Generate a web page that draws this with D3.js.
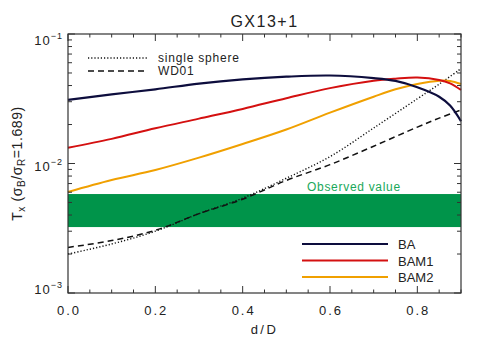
<!DOCTYPE html>
<html>
<head>
<meta charset="utf-8">
<script src="https://cdn.jsdelivr.net/npm/d3@7"></script>
<style>
  body { margin: 0; background: #fff; }
  text { font-family: "Liberation Sans", Arial, sans-serif; fill: #222; }
</style>
</head>
<body>
<script>
// x values (d/D) and model curves
var dBA  = [0, 0.1, 0.2, 0.3, 0.4, 0.5, 0.6, 0.7, 0.75, 0.8, 0.85, 0.875, 0.9];
var tBA  = [0.031, 0.0342, 0.0374, 0.0414, 0.0446, 0.0468, 0.0478, 0.0456, 0.0434, 0.0388, 0.0328, 0.0280, 0.0212];

var dBAM = [0, 0.1, 0.2, 0.3, 0.4, 0.5, 0.6, 0.7, 0.75, 0.8, 0.85, 0.875, 0.9];
var tBAM1 = [0.01324, 0.0155, 0.0187, 0.0222, 0.0264, 0.0319, 0.0382, 0.0436, 0.0452, 0.0461, 0.0442, 0.0416, 0.037];
var tBAM2 = [0.00603, 0.00746, 0.00891, 0.0111, 0.01415, 0.0183, 0.0247, 0.0328, 0.0374, 0.0411, 0.0436, 0.0434, 0.0411];

var dRef = [0, 0.1, 0.2, 0.3, 0.4, 0.5, 0.6, 0.7, 0.8, 0.85, 0.9];
var tSphere = [0.0020, 0.00239, 0.0030, 0.0041, 0.0054, 0.0077, 0.0113, 0.0188, 0.0316, 0.041, 0.054];
var tWD01   = [0.00225, 0.00254, 0.00305, 0.0041, 0.0053, 0.0074, 0.0098, 0.0136, 0.0191, 0.0224, 0.0259];

// observed band
var observed = [0.00323, 0.00581];

var xTicks = [0, 0.2, 0.4, 0.6, 0.8];
var yTicks = [1e-3, 1e-2, 1e-1];
var yExp = ["\u22123", "\u22122", "\u22121"];

window.onload = function(){

    var w = 485, h = 346;
    var left = 68, top = 34, right = 461, bottom = 293;
    var axisCol = "#333";

    var svg = d3.select("body")
        .append("svg")
        .attr("width", w)
        .attr("height", h);

    var x = d3.scaleLinear().domain([0, 0.9]).range([left, right]);
    var y = d3.scaleLog().domain([1e-3, 1e-1]).range([bottom, top]);

    // observed value band
    svg.append("rect")
        .attr("x", x(0))
        .attr("width", x(0.9) - x(0))
        .attr("y", y(observed[1]))
        .attr("height", y(observed[0]) - y(observed[1]))
        .style("fill", "#00944a");

    svg.append("text")
        .attr("x", 307).attr("y", 191)
        .style("font-size", "12px")
        .style("letter-spacing", "0.7px")
        .style("fill", "#1aa85a")
        .text("Observed value");

    // curves
    function draw(ds, ts, col, dash, width){
        var pts = ds.map(function(d, i){ return [d, ts[i]]; });
        var line = d3.line()
            .x(function(p){ return x(p[0]); })
            .y(function(p){ return y(p[1]); })
            .curve(d3.curveCatmullRom);
        svg.append("path")
            .datum(pts)
            .attr("d", line)
            .style("fill", "none")
            .style("stroke", col)
            .style("stroke-width", width)
            .style("stroke-dasharray", dash);
    }

    draw(dRef, tSphere, "#111", "1.2,2", 1.4);
    draw(dRef, tWD01, "#111", "6,4", 1.5);
    draw(dBAM, tBAM2, "#f0a000", null, 2);
    draw(dBAM, tBAM1, "#d41010", null, 2);
    draw(dBA, tBA, "#0d0d3d", null, 2.2);

    // frame
    svg.append("rect")
        .attr("x", left).attr("y", top)
        .attr("width", right - left).attr("height", bottom - top)
        .style("fill", "none")
        .style("stroke", axisCol)
        .style("stroke-width", 1.2);

    // x ticks (major + minor), bottom and top
    var xMinor = d3.range(0, 0.901, 0.05);
    xMinor.forEach(function(v){
        var major = Math.abs(v / 0.2 - Math.round(v / 0.2)) < 1e-6;
        var len = major ? 7 : 3.5;
        svg.append("line")
            .attr("x1", x(v)).attr("x2", x(v))
            .attr("y1", bottom).attr("y2", bottom - len)
            .style("stroke", axisCol);
        svg.append("line")
            .attr("x1", x(v)).attr("x2", x(v))
            .attr("y1", top).attr("y2", top + len)
            .style("stroke", axisCol);
    });

    svg.selectAll(".xlab")
        .data(xTicks)
        .enter().append("text")
        .attr("x", function(d){ return x(d) + 1; })
        .attr("y", 315)
        .attr("text-anchor", "middle")
        .style("font-size", "13px")
        .style("letter-spacing", "2px")
        .text(function(d){ return d3.format(".1f")(d); });

    // y ticks (log), left and right
    var yMinor = [];
    [1e-3, 1e-2].forEach(function(dec){
        for (var k = 1; k <= 9; k++) yMinor.push(dec * k);
    });
    yMinor.push(1e-1);
    yMinor.forEach(function(v){
        var major = yTicks.some(function(t){ return Math.abs(t - v) / t < 1e-6; });
        var len = major ? 7 : 4;
        svg.append("line")
            .attr("x1", left).attr("x2", left + len)
            .attr("y1", y(v)).attr("y2", y(v))
            .style("stroke", axisCol);
        svg.append("line")
            .attr("x1", right).attr("x2", right - len)
            .attr("y1", y(v)).attr("y2", y(v))
            .style("stroke", axisCol);
    });

    var ylab = svg.selectAll(".ylab")
        .data(yTicks)
        .enter().append("text")
        .attr("x", 63)
        .attr("y", function(d){ return Math.min(Math.max(y(d) + 7, top + 11), bottom + 1); })
        .attr("text-anchor", "end")
        .style("font-size", "13px")
        .style("letter-spacing", "1px");
    ylab.append("tspan").text("10");
    ylab.append("tspan")
        .attr("dy", -6)
        .style("font-size", "9px")
        .text(function(d, i){ return yExp[i]; });

    // titles
    svg.append("text")
        .attr("x", (left + right) / 2).attr("y", 27)
        .attr("text-anchor", "middle")
        .style("font-size", "16px")
        .style("letter-spacing", "1.5px")
        .text("GX13+1");

    svg.append("text")
        .attr("x", (left + right) / 2).attr("y", 334)
        .attr("text-anchor", "middle")
        .style("font-size", "13px")
        .style("letter-spacing", "2.5px")
        .text("d/D");

    var yt = svg.append("text")
        .attr("transform", "translate(22," + ((top + bottom) / 2) + ") rotate(-90)")
        .attr("text-anchor", "middle")
        .style("font-size", "14px")
        .style("letter-spacing", "0.6px");
    yt.append("tspan").text("T");
    yt.append("tspan").attr("dy", 3).style("font-size", "10px").text("x");
    yt.append("tspan").attr("dy", -3).text(" (\u03c3");
    yt.append("tspan").attr("dy", 3).style("font-size", "10px").text("B");
    yt.append("tspan").attr("dy", -3).text("/\u03c3");
    yt.append("tspan").attr("dy", 3).style("font-size", "10px").text("R");
    yt.append("tspan").attr("dy", -3).text("=1.689)");

    // legend, top left
    var legTop = [
        {name: "single sphere", dash: "1.2,2", yy: 58},
        {name: "WD01", dash: "6,4", yy: 71}
    ];
    legTop.forEach(function(l){
        svg.append("line")
            .attr("x1", 88).attr("x2", 148)
            .attr("y1", l.yy).attr("y2", l.yy)
            .style("stroke", "#111")
            .style("stroke-width", 1.4)
            .style("stroke-dasharray", l.dash);
        svg.append("text")
            .attr("x", 158).attr("y", l.yy + 4)
            .style("font-size", "12px")
            .style("letter-spacing", "0.8px")
            .text(l.name);
    });

    // legend, bottom right
    var legBot = [
        {name: "BA", col: "#0d0d3d", yy: 244},
        {name: "BAM1", col: "#d41010", yy: 260.5},
        {name: "BAM2", col: "#f0a000", yy: 277}
    ];
    legBot.forEach(function(l){
        svg.append("line")
            .attr("x1", 302).attr("x2", 388)
            .attr("y1", l.yy).attr("y2", l.yy)
            .style("stroke", l.col)
            .style("stroke-width", 2);
        svg.append("text")
            .attr("x", 398).attr("y", l.yy + 5)
            .style("font-size", "13px")
            .text(l.name);
    });
};
</script>
</body>
</html>
